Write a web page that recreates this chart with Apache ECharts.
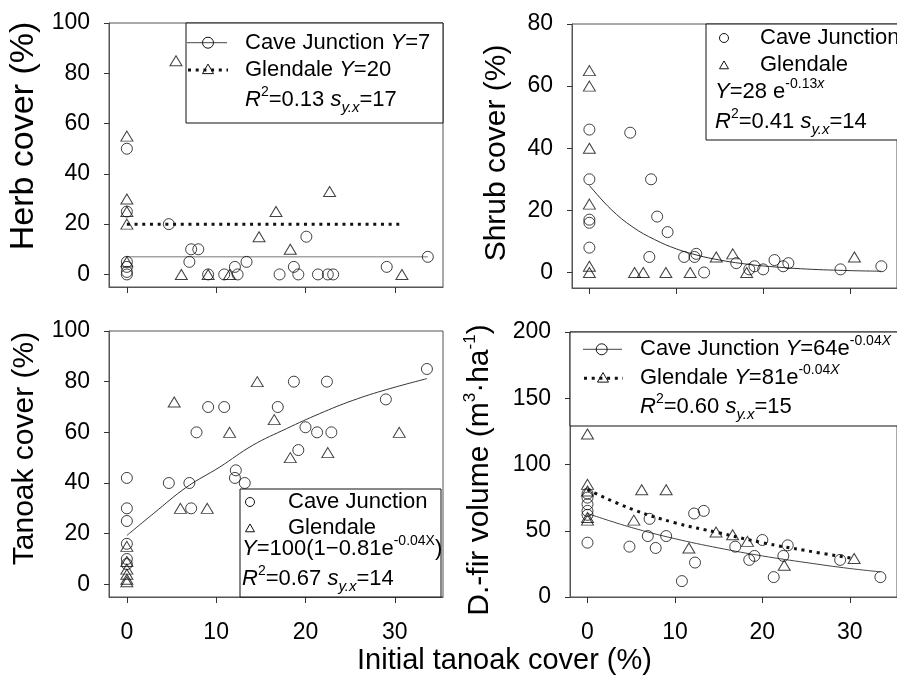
<!DOCTYPE html>
<html><head><meta charset="utf-8">
<script src="https://cdn.jsdelivr.net/npm/echarts@6/dist/echarts.min.js"></script>
<style>html,body{margin:0;padding:0;background:#fff}#c{width:897px;height:681px}</style>
</head><body><div id="c"></div>
<script>
// ---- tick labels ----
const xTicks = [0, 10, 20, 30];
const herbTicks = [0, 20, 40, 60, 80, 100];
const shrubTicks = [0, 20, 40, 60, 80];
const tanoakTicks = [0, 20, 40, 60, 80, 100];
const volTicks = [0, 50, 100, 150, 200];

// ---- Herb cover (%) ----
const herbCJ = [[0,50],[0,25],[0,5],[0,3],[0,1],[0,0],[4.7,20],[7.0,5],[7.2,10],[8.0,10],[9.1,0],[10.9,0],[12.1,3],[12.4,0],[13.4,5],[17.1,0],[18.7,3],[19.2,0],[20.1,15],[21.4,0],[22.5,0],[23.1,0],[29.1,3],[33.7,7]];
const herbGL = [[0,55],[0,30],[0,25],[0,20],[0,5],[5.5,85],[6.1,0],[9.1,0],[11.5,0],[14.8,15],[16.7,25],[18.3,10],[22.7,33],[30.8,0]];
const herbFitCJ = [[0,7],[33.7,7]];
const herbFitGL = [[0,20],[30.5,20]];

// ---- Shrub cover (%) ----
const shrubCJ = [[0,46],[0,30],[0,17],[0,16],[0,8],[4.7,45],[7.1,30],[7.8,18],[9.0,13],[6.9,5],[10.9,5],[12.1,5],[12.3,6],[13.2,0],[16.9,3],[18.4,1],[19.0,2],[20.0,1],[21.3,4],[22.3,2],[22.9,3],[28.9,1],[33.6,2]];
const shrubGL = [[0,65],[0,60],[0,40],[0,22],[0,2],[0,0],[5.2,0],[6.2,0],[8.8,0],[11.6,0],[14.6,5],[16.5,6],[18.1,0],[30.5,5]];
const shrubFit = [[0,28],[2.5,20.3],[5,14.6],[7.5,10.6],[10,7.6],[12.5,5.5],[15,4.0],[17.5,2.9],[20,2.1],[25,1.1],[30,0.6],[33.6,0.4]];

// ---- Tanoak cover (%) ----
const tanCJ = [[0,42],[0,30],[0,25],[0,16],[0,10],[0,8],[4.7,40],[7.0,40],[7.2,30],[7.8,60],[9.1,70],[10.9,70],[12.2,45],[12.1,42],[13.2,40],[16.9,70],[18.7,80],[19.2,53],[20.0,62],[21.3,60],[22.4,80],[22.9,60],[29.0,73],[33.6,85]];
const tanGL = [[0,15],[0,9],[0,6],[0,4],[0,2],[0,1],[5.3,72],[6.0,30],[9.0,30],[11.5,60],[14.6,80],[16.5,65],[18.3,50],[22.5,52],[30.5,60]];
const tanFit = [[0,19.3],[3,28],[6.7,38.4],[10.4,46.3],[14.1,54.9],[17.9,61.5],[21.6,67.4],[25.3,72.6],[29.1,76.9],[33.6,81.2]];

// ---- D.-fir volume ----
const volCJ = [[0,78],[0,75],[0,70],[0,65],[0,62],[0,41],[4.8,38],[7.1,59],[6.9,46],[7.8,37],[9.0,46],[10.8,12],[12.2,63],[12.3,26],[13.3,65],[16.9,38],[18.5,28],[19.1,31],[20.0,43],[21.3,15],[22.4,31],[22.9,39],[28.9,28],[33.5,15]];
const volGL = [[0,123],[0,85],[0,80],[0,60],[0,58],[5.3,58],[6.2,81],[9.0,81],[11.6,37],[14.7,49],[16.6,47],[18.3,42],[22.5,24],[30.5,29]];
const volFitCJ = [[0,63],[5,52.5],[10,44],[15,37],[20,31],[25,26],[30,21.5],[33.5,19]];
const volFitGL = [[0,81],[5,66.5],[10,56],[15,48.5],[20,41],[25,35],[30.5,29]];

const FONT = "'Liberation Sans', Arial, sans-serif";
const AX = '#555';

const chart = echarts.init(document.getElementById('c'), null, {renderer: 'canvas'});

const grids = [
  {left: 109, top: 23, width: 334, height: 264},
  {left: 572, top: 24, width: 334, height: 264},
  {left: 109, top: 331, width: 334, height: 266},
  {left: 570, top: 332, width: 334, height: 265}
];
grids.forEach(g => { g.show = true; g.borderColor = AX; g.borderWidth = 1; g.backgroundColor = 'transparent'; });

function xAxis(i, labels) {
  return {
    gridIndex: i, type: 'value', min: -2, max: 35.4,
    splitLine: {show: false},
    axisLine: {show: true, onZero: false, lineStyle: {color: AX, width: 1}},
    axisTick: {show: true, length: 6, inside: false, customValues: xTicks, lineStyle: {color: '#333'}},
    axisLabel: {show: labels, customValues: xTicks, margin: 24, fontSize: 23, color: '#000', fontFamily: FONT}
  };
}
function yAxis(i, min, max, ticks, name, gap, fs, pad) {
  return {
    gridIndex: i, type: 'value', min: min, max: max,
    splitLine: {show: false},
    axisLine: {show: true, onZero: false, lineStyle: {color: AX, width: 1}},
    axisTick: {show: true, length: 5, customValues: ticks, lineStyle: {color: '#333'}},
    axisLabel: {customValues: ticks, margin: 19, fontSize: 23, color: '#000', fontFamily: FONT},
    name: name, nameLocation: 'middle', nameRotate: 90, nameGap: gap,
    nameTextStyle: {fontSize: fs, fontFamily: FONT, color: '#000', padding: pad,
      rich: {
        n: {fontSize: fs, fontFamily: FONT, color: '#000', lineHeight: 36},
        sup: {fontSize: 17, fontFamily: FONT, color: '#000', verticalAlign: 'top', lineHeight: 18}
      }}
  };
}

function pts(name, data, idx, sym) {
  return {
    name: name, type: 'scatter', xAxisIndex: idx, yAxisIndex: idx, data: data,
    symbol: sym, symbolSize: sym === 'triangle' ? [12, 10] : 11,
    itemStyle: {color: 'rgba(0,0,0,0)', borderColor: '#111', borderWidth: 1},
    z: 3
  };
}
function fit(name, data, idx, dotted, color, smooth) {
  return {
    name: name, type: 'line', xAxisIndex: idx, yAxisIndex: idx, data: data,
    symbol: 'none', smooth: smooth ? 0.4 : false, silent: true,
    lineStyle: dotted ? {color: '#111', width: 3, type: [3, 4.7], cap: 'butt'} : {color: color, width: 1},
    z: 2
  };
}

// ---- legend graphics ----
const richLeg = {
  n: {fontSize: 22, fontFamily: FONT, color: '#000', lineHeight: 30},
  i: {fontSize: 22, fontFamily: FONT, color: '#000', fontStyle: 'italic', lineHeight: 30},
  sup: {fontSize: 14, fontFamily: FONT, color: '#000', verticalAlign: 'top', lineHeight: 15},
  supi: {fontSize: 14, fontFamily: FONT, color: '#000', fontStyle: 'italic', verticalAlign: 'top', lineHeight: 15},
  sub: {fontSize: 15, fontFamily: FONT, color: '#000', fontStyle: 'italic', verticalAlign: 'bottom', lineHeight: 14}
};
function txt(x, y, s) {
  return {type: 'text', x: x, y: y, z: 102,
    style: {text: s, rich: richLeg, fontSize: 22, fontFamily: FONT, fill: '#000',
      align: 'left', verticalAlign: 'middle', textAlign: 'left', textVerticalAlign: 'middle'}};
}
function box(x, y, w, h) {
  return {type: 'rect', z: 100, shape: {x: x, y: y, width: w, height: h},
    style: {fill: '#fff', stroke: '#111', lineWidth: 1}};
}
function circ(x, y, r) {
  return {type: 'circle', z: 101, shape: {cx: x, cy: y, r: r}, style: {fill: 'none', stroke: '#111', lineWidth: 1}};
}
function tri(x, y, s) {
  return {type: 'polygon', z: 101, shape: {points: [[x, y - s * 0.45], [x - s / 2, y + s * 0.42], [x + s / 2, y + s * 0.42]]},
    style: {fill: 'none', stroke: '#111', lineWidth: 1}};
}
function seg(x1, x2, y, dotted) {
  return {type: 'line', z: 101, shape: {x1: x1, y1: y, x2: x2, y2: y},
    style: dotted ? {stroke: '#111', lineWidth: 3, lineDash: [3, 4.7]} : {stroke: '#444', lineWidth: 1}};
}

const graphics = [
  // Herb legend
  box(186, 23, 257, 100),
  seg(187, 227, 42.7, false), circ(208, 42.7, 5.5), txt(245, 43, '{n|Cave Junction }{i|Y}{n|=7}'),
  seg(188, 228, 70, true), tri(208, 69, 11), txt(245, 70, '{n|Glendale }{i|Y}{n|=20}'),
  txt(245, 100, '{i|R}{sup|2}{n|=0.13 }{i|s}{sub|y.x}{n|=17}'),
  // Shrub legend
  box(706, 24, 220, 116),
  circ(724, 38, 4.5), txt(760, 38, '{n|Cave Junction}'),
  tri(724, 65, 9), txt(760, 65, '{n|Glendale}'),
  txt(715, 92, '{i|Y}{n|=28 e}{sup|-0.13}{supi|x}'),
  txt(715, 122, '{i|R}{sup|2}{n|=0.41 }{i|s}{sub|y.x}{n|=14}'),
  // Tanoak legend
  box(240, 489, 201, 108),
  circ(250, 502, 4.5), txt(288, 502, '{n|Cave Junction}'),
  tri(250, 528, 9), txt(288, 528, '{n|Glendale}'),
  txt(242, 549, '{i|Y}{n|=100(1\u22120.81e}{sup|-0.04X}{n|)}'),
  txt(242, 579, '{i|R}{sup|2}{n|=0.67 }{i|s}{sub|y.x}{n|=14}'),
  // Volume legend
  box(570, 332, 340, 94),
  seg(583, 622, 349.3, false), circ(601.7, 349.3, 5.5), txt(640, 349, '{n|Cave Junction }{i|Y}{n|=64e}{sup|-0.04}{supi|X}'),
  seg(584, 623, 378.3, true), tri(603, 377.5, 11), txt(640, 378, '{n|Glendale }{i|Y}{n|=81e}{sup|-0.04}{supi|X}'),
  txt(640, 407, '{i|R}{sup|2}{n|=0.60 }{i|s}{sub|y.x}{n|=15}'),
  // shared x-axis title
  {type: 'text', x: 357, y: 661, z: 102,
    style: {text: 'Initial tanoak cover (%)', fontSize: 29, fontFamily: FONT, fill: '#000',
      align: 'left', verticalAlign: 'middle', textAlign: 'left', textVerticalAlign: 'middle'}}
];

const option = {
  animation: false,
  backgroundColor: '#fff',
  grid: grids,
  xAxis: [xAxis(0, false), xAxis(1, false), xAxis(2, true), xAxis(3, true)],
  yAxis: [
    yAxis(0, -5, 100, herbTicks, 'Herb cover (%)', 68, 34, [0, 0, 0, 38]),
    yAxis(1, -5, 80, shrubTicks, 'Shrub cover (%)', 60, 30, [0, 0, 0, 6]),
    yAxis(2, -5, 100, tanoakTicks, 'Tanoak cover (%)', 69, 30, [0, 0, 0, 31]),
    yAxis(3, 0, 200, volTicks, '{n|D.-fir volume (m}{sup|3}{n|\u00b7ha}{sup|-1}{n|)}', 72, 30, [0, 11, 0, 0])
  ],
  series: [
    fit('Cave Junction fit', herbFitCJ, 0, false, '#777', false),
    fit('Glendale fit', herbFitGL, 0, true),
    pts('Cave Junction', herbCJ, 0, 'circle'),
    pts('Glendale', herbGL, 0, 'triangle'),
    fit('Shrub fit', shrubFit, 1, false, '#333', true),
    pts('Cave Junction', shrubCJ, 1, 'circle'),
    pts('Glendale', shrubGL, 1, 'triangle'),
    fit('Tanoak fit', tanFit, 2, false, '#333', true),
    pts('Cave Junction', tanCJ, 2, 'circle'),
    pts('Glendale', tanGL, 2, 'triangle'),
    fit('Cave Junction fit', volFitCJ, 3, false, '#444', true),
    fit('Glendale fit', volFitGL, 3, true, null, true),
    pts('Cave Junction', volCJ, 3, 'circle'),
    pts('Glendale', volGL, 3, 'triangle')
  ],
  graphic: graphics
};
chart.setOption(option);
</script>
</body></html>
